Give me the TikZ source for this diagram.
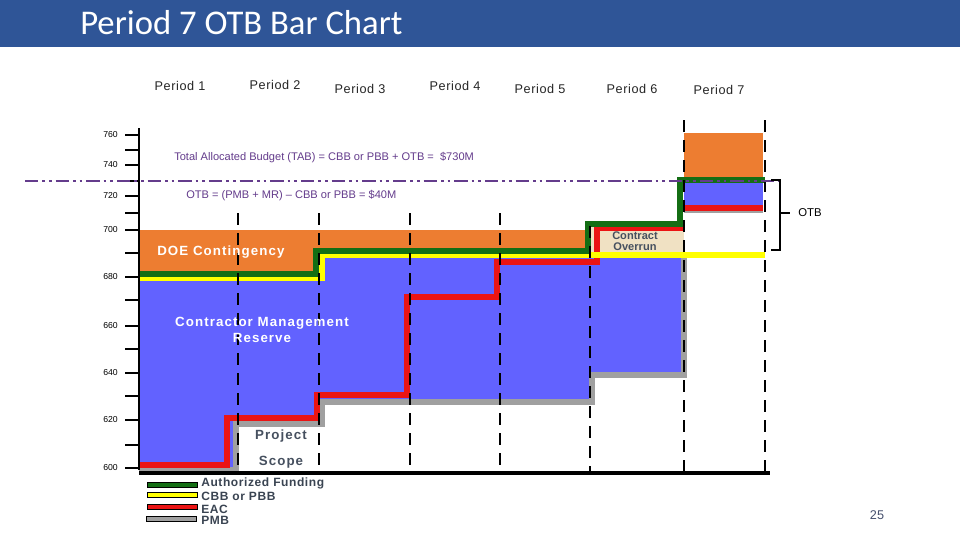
\documentclass[tikz,border=0pt]{standalone}
\usepackage{fontspec}
\setmainfont{Liberation Sans}
\newfontfamily\titlefont{Carlito}
\newfontfamily\spaced[LetterSpace=8]{Liberation Sans}
\newfontfamily\lspaced[LetterSpace=5]{Liberation Sans}
\begin{document}
\begin{tikzpicture}[x=0.75pt,y=-0.75pt,
  lbl/.style={inner sep=0pt,font=\lspaced\fontsize{9.5}{10}\selectfont,text=black!85},
  ytk/.style={inner sep=0pt,anchor=east,font=\fontsize{6.5}{7}\selectfont},
  stepln/.style={line width=3.8pt},
  per/.style={black,line width=2.2pt,dash pattern=on 9pt off 6pt},
  wlbl/.style={inner sep=0pt,text=white,font=\spaced\bfseries\fontsize{10}{12.5}\selectfont,align=center},
  dlbl/.style={inner sep=0pt,text={rgb,255:red,70;green,80;blue,95},font=\spaced\bfseries\fontsize{10}{11}\selectfont,align=center},
  leg/.style={inner sep=0pt,anchor=west,text={rgb,255:red,58;green,68;blue,82},font=\lspaced\bfseries\fontsize{9}{9}\selectfont}]
\definecolor{tbar}{RGB}{47,85,151}
\definecolor{org}{RGB}{237,125,49}
\definecolor{blu}{RGB}{98,98,255}
\definecolor{tan}{RGB}{240,225,195}
\definecolor{grn}{RGB}{20,110,20}
\definecolor{yel}{RGB}{255,255,0}
\definecolor{rd}{RGB}{235,20,20}
\definecolor{gry}{RGB}{160,160,160}
\definecolor{pur}{RGB}{100,60,140}
\useasboundingbox (0,0) rectangle (960,540);
\fill[white] (0,0) rectangle (960,540);
% title
\fill[tbar] (0,0) rectangle (960,47);
\node[anchor=west,inner sep=0pt,text=white,font=\titlefont\fontsize{26}{28}\selectfont] (title) at (80,23) {Period 7 OTB Bar Chart};
% period labels
\node[lbl] (p1) at (180,86) {Period 1};
\node[lbl] (p2) at (275,85) {Period 2};
\node[lbl] (p3) at (360,89) {Period 3};
\node[lbl] (p4) at (455,86) {Period 4};
\node[lbl] (p5) at (540,89) {Period 5};
\node[lbl] (p6) at (632,89) {Period 6};
\node[lbl] (p7) at (719,90) {Period 7};
% areas
\fill[org] (139,230) rectangle (590,280);
\fill[tan] (590,224) rectangle (684,256);
\fill[org] (684,133) rectangle (763,180);
\fill[blu] (139,278) -- (318,278) -- (318,255) -- (684,255) -- (684,373) -- (592,373) -- (592,402)
  -- (319,402) -- (319,425) -- (236,425) -- (236,470) -- (139,470) -- cycle;
\fill[blu] (684,182) rectangle (763,205);
% gray PMB
\draw[gry,stepln] (139,470) -- (236,470) -- (236,424) -- (322,424) -- (322,402) -- (592,402) -- (592,375) -- (684,375) -- (684,256);
\draw[gry,line width=2pt] (684,212) -- (763,212);
% red EAC
\draw[rd,stepln] (139,465) -- (227,465) -- (227,418) -- (317,418) -- (317,395) -- (407,395) -- (407,297) -- (497,297) -- (497,262) -- (597,262) -- (597,228) -- (684,228);
\draw[rd,stepln] (684,208) -- (763,208);
% yellow CBB
\draw[yel,stepln] (139,278) -- (322,278) -- (322,255) -- (765,255);
% green AF
\draw[grn,stepln] (139,274) -- (316,274) -- (316,251) -- (588,251) -- (588,224) -- (680,224) -- (680,180) -- (765,180);
% axis
\draw[black,line width=0.8pt] (139,128) -- (139,470);
\draw[black,line width=2.5pt] (139,473) -- (770,473);
\foreach \y/\t in {135/760,165/740,196/720,230/700,277/680,326/660,373/640,420/620,468/600}{
  \draw[black,line width=0.8pt] (125,\y) -- (139,\y);
  \node[ytk] at (118,\y) {\t};}
\foreach \y in {150,181,213,253,300,349,396,445}{\draw[black,line width=0.8pt] (125,\y) -- (139,\y);}
% period dividers
\foreach \x in {238,319,410,500}{\draw[per] (\x,213) -- (\x,473);}
\draw[per] (590,226) -- (590,473);
\draw[per] (684,120) -- (684,473);
\draw[per] (765,120) -- (765,473);
% TAB line
\draw[pur,line width=1.6pt,dash pattern=on 10pt off 3pt on 2pt off 3pt on 2pt off 3pt] (25,181) -- (780,181);
\node[anchor=west,inner sep=0pt,text=pur,font=\fontsize{8.3}{9}\selectfont] (tab) at (174,158) {Total Allocated Budget (TAB) = CBB or PBB + OTB =~ \$730M};
\node[anchor=west,inner sep=0pt,text=pur,font=\fontsize{8.3}{9}\selectfont] (otbeq) at (186,196) {OTB = (PMB + MR) -- CBB or PBB = \$40M};
% brace
\draw[black,line width=1.5pt] (771,180) -- (780,180) -- (780,250) -- (771,250);
\draw[black,line width=1.5pt] (780,213) -- (790,213);
\node[anchor=west,inner sep=0pt,font=\fontsize{8.5}{9}\selectfont] (otb) at (798,213) {OTB};
% labels
\node[wlbl,anchor=west] (doe) at (157,252) {DOE Contingency};
\node[wlbl] (cmr) at (262,330) {Contractor Management\\Reserve};
\node[dlbl] (proj) at (281,436) {Project};
\node[dlbl] (scope) at (281,462) {Scope};
\node[inner sep=0pt,align=center,text={rgb,255:red,70;green,80;blue,95},font=\bfseries\fontsize{8.3}{8.5}\selectfont] (co) at (635,241) {Contract\\Overrun};
% legend
\fill[grn] (147,482) rectangle (197,487); \draw[black,line width=0.4pt] (147,482) rectangle (197,487);
\fill[yel] (147,492) rectangle (197,497); \draw[black,line width=0.4pt] (147,492) rectangle (197,497);
\fill[rd] (147,504) rectangle (197,509); \draw[black,line width=0.4pt] (147,504) rectangle (197,509);
\fill[gry] (146,516) rectangle (196,521); \draw[black,line width=0.4pt] (146,516) rectangle (196,521);
\node[leg] (l1) at (201,483) {Authorized Funding};
\node[leg] (l2) at (201,496) {CBB or PBB};
\node[leg] (l3) at (201,509) {EAC};
\node[leg] (l4) at (201,520) {PMB};
\node[inner sep=0pt,text={rgb,255:red,70;green,80;blue,110},font=\fontsize{9.5}{10}\selectfont] (pg) at (877,515) {25};
\end{tikzpicture}
\end{document}
